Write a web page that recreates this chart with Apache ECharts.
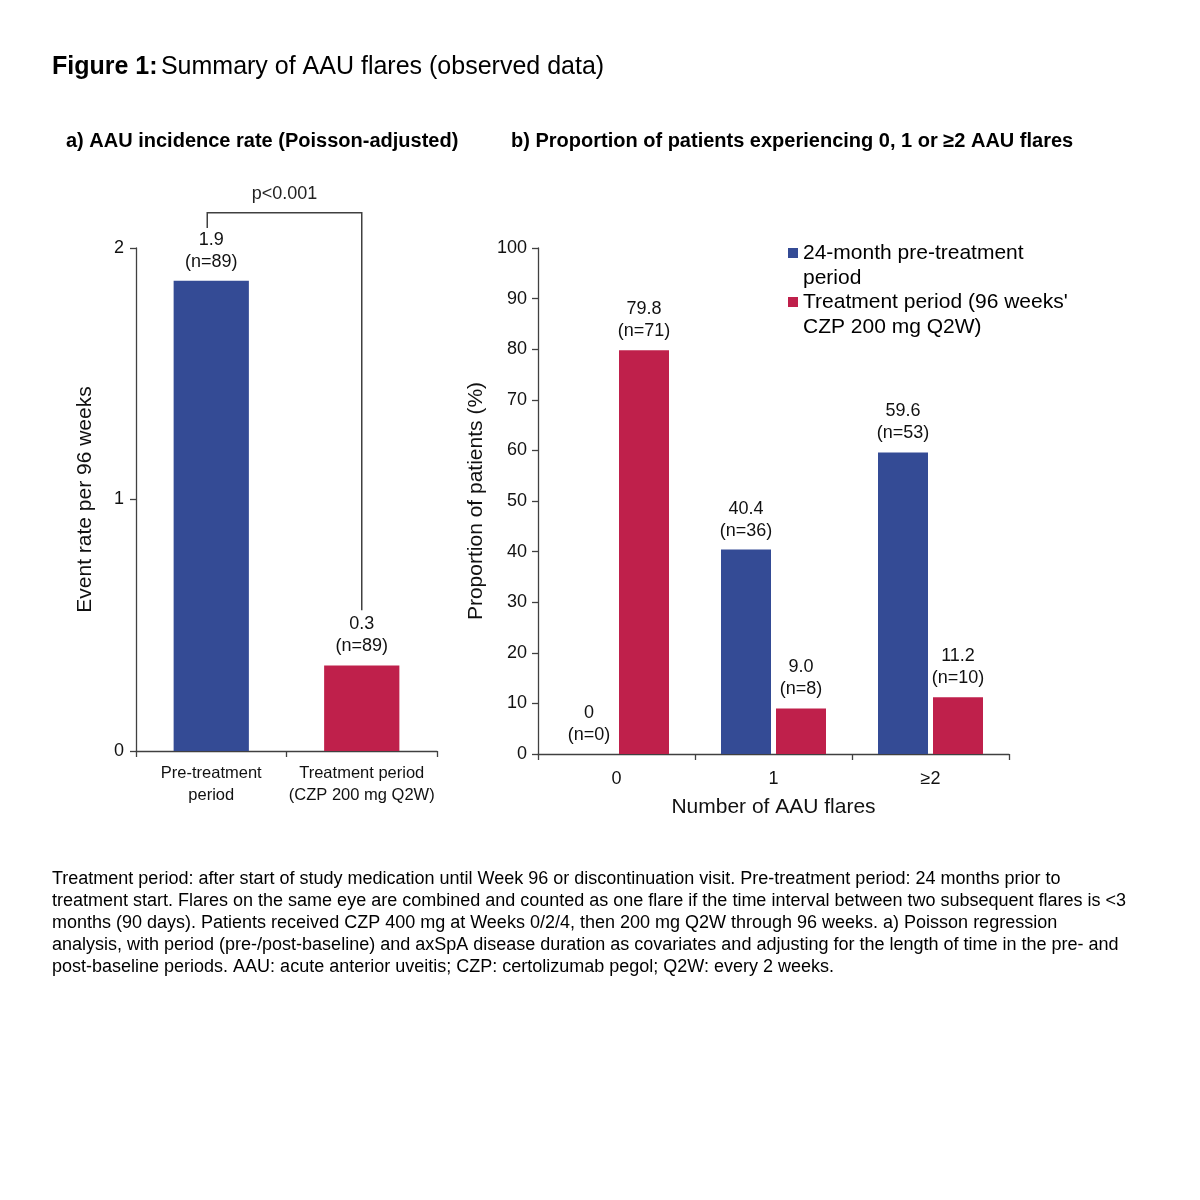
<!DOCTYPE html>
<html>
<head>
<meta charset="utf-8">
<script src="https://cdn.jsdelivr.net/npm/echarts@6/dist/echarts.min.js"></script>
<style>html,body{margin:0;padding:0;background:#fff;}#c{width:1200px;height:1200px;}</style>
</head>
<body>
<div id="c"></div>
<script>
// ---- Data ----
var leftCategories = ['Pre-treatment\nperiod', 'Treatment period\n(CZP 200 mg Q2W)'];
var leftValues = [1.87, 0.34];
var leftValueLabels = ['1.9', '0.3'];
var leftN = [89, 89];
var leftTicks = [0, 1, 2];

var rightCategories = ['0', '1', '≥2'];
var preValues = [0, 40.4, 59.6];
var preN = [0, 36, 53];
var treatValues = [79.8, 9.0, 11.2];
var treatN = [71, 8, 10];
var seriesNames = ['24-month pre-treatment\nperiod', "Treatment period (96 weeks'\nCZP 200 mg Q2W)"];
var pValueText = 'p<0.001';
var footnoteLines = [
  'Treatment period: after start of study medication until Week 96 or discontinuation visit. Pre-treatment period: 24 months prior to',
  'treatment start. Flares on the same eye are combined and counted as one flare if the time interval between two subsequent flares is <3',
  'months (90 days). Patients received CZP 400 mg at Weeks 0/2/4, then 200 mg Q2W through 96 weeks. a) Poisson regression',
  'analysis, with period (pre-/post-baseline) and axSpA disease duration as covariates and adjusting for the length of time in the pre- and',
  'post-baseline periods. AAU: acute anterior uveitis; CZP: certolizumab pegol; Q2W: every 2 weeks.'
];

// ---- Styles ----
var BLUE = '#344b95';
var RED = '#bf204b';
var AX = '#404040';
var FONT = '"Liberation Sans", Arial, sans-serif';

function fmt(v) { return v === 0 ? '0' : v.toFixed(1); }

var chart = echarts.init(document.getElementById('c'), null, {renderer: 'canvas'});

var axisCommon = {
  axisLine: {show: true, lineStyle: {color: AX, width: 1.3}},
  axisTick: {show: true, inside: false, length: 6, lineStyle: {color: AX, width: 1.3}},
  splitLine: {show: false}
};

var labelCommon = {
  show: true, position: 'top', distance: 8,
  fontFamily: FONT, fontSize: 18, lineHeight: 22, color: '#111', align: 'center'
};

var graphics = [
  {type: 'text', left: 52, top: 55, style: {
    text: '{b|Figure 1:} {n|Summary of AAU flares (observed data)}',
    rich: {b: {fontFamily: FONT, fontSize: 25, fontWeight: 'bold', fill: '#000'},
           n: {fontFamily: FONT, fontSize: 25, fill: '#000'}}}},
  {type: 'text', left: 66, top: 131, style: {text: 'a) AAU incidence rate (Poisson-adjusted)',
    fontFamily: FONT, fontSize: 20, fontWeight: 'bold', fill: '#000'}},
  {type: 'text', left: 511, top: 131, style: {text: 'b) Proportion of patients experiencing 0, 1 or ≥2 AAU flares',
    fontFamily: FONT, fontSize: 20, fontWeight: 'bold', fill: '#000'}}
];
footnoteLines.forEach(function (t, i) {
  graphics.push({type: 'text', left: 52, top: 870 + i * 22, style: {text: t, fontFamily: FONT, fontSize: 18, fill: '#000'}});
});
// legend
var legendColors = [BLUE, RED];
seriesNames.forEach(function (n, i) {
  var y = 241 + i * 49;
  graphics.push({type: 'rect', shape: {x: 788, y: y + 7, width: 10, height: 10}, style: {fill: legendColors[i]}});
  graphics.push({type: 'text', left: 803, top: y, style: {text: n, fontFamily: FONT, fontSize: 21, lineHeight: 24.5, fill: '#000'}});
});

var option = {
  animation: false,
  backgroundColor: '#fff',
  textStyle: {fontFamily: FONT},
  grid: [
    {left: 136, top: 248, width: 301, height: 503, containLabel: false},
    {left: 538, top: 248, width: 471, height: 506, containLabel: false}
  ],
  xAxis: [
    Object.assign({}, axisCommon, {type: 'category', gridIndex: 0, data: leftCategories,
      axisLabel: {interval: 0, fontFamily: FONT, fontSize: 16.5, lineHeight: 22, color: '#111', margin: 11}}),
    Object.assign({}, axisCommon, {type: 'category', gridIndex: 1, data: rightCategories,
      name: 'Number of AAU flares', nameLocation: 'middle', nameGap: 43,
      nameTextStyle: {fontFamily: FONT, fontSize: 21, color: '#111'},
      axisLabel: {interval: 0, fontFamily: FONT, fontSize: 18, color: '#111', margin: 16}})
  ],
  yAxis: [
    Object.assign({}, axisCommon, {type: 'value', gridIndex: 0, min: 0, max: 2, interval: 1,
      name: 'Event rate per 96 weeks', nameLocation: 'middle', nameGap: 40,
      nameTextStyle: {fontFamily: FONT, fontSize: 21, color: '#111'},
      axisLabel: {fontFamily: FONT, fontSize: 18, color: '#111', margin: 12}}),
    Object.assign({}, axisCommon, {type: 'value', gridIndex: 1, min: 0, max: 100, interval: 10,
      name: 'Proportion of patients (%)', nameLocation: 'middle', nameGap: 51,
      nameTextStyle: {fontFamily: FONT, fontSize: 21, color: '#111'},
      axisLabel: {fontFamily: FONT, fontSize: 18, color: '#111', margin: 11}})
  ],
  series: [
    {type: 'bar', xAxisIndex: 0, yAxisIndex: 0, barWidth: '50%',
      data: leftValues.map(function (v, i) { return {value: v, itemStyle: {color: i === 0 ? BLUE : RED}}; }),
      label: Object.assign({}, labelCommon, {formatter: function (p) {
        return leftValueLabels[p.dataIndex] + '\n(n=' + leftN[p.dataIndex] + ')'; }})},
    {type: 'bar', name: seriesNames[0], xAxisIndex: 1, yAxisIndex: 1, barWidth: 50, barGap: '10%',
      itemStyle: {color: BLUE}, data: preValues,
      label: Object.assign({}, labelCommon, {formatter: function (p) {
        return fmt(preValues[p.dataIndex]) + '\n(n=' + preN[p.dataIndex] + ')'; }})},
    {type: 'bar', name: seriesNames[1], xAxisIndex: 1, yAxisIndex: 1, barWidth: 50, barGap: '10%',
      itemStyle: {color: RED}, data: treatValues,
      label: Object.assign({}, labelCommon, {formatter: function (p) {
        return fmt(treatValues[p.dataIndex]) + '\n(n=' + treatN[p.dataIndex] + ')'; }})}
  ],
  graphic: graphics
};
chart.setOption(option);

// significance bracket, positioned through the left chart's scales
var bracketTop = 2.14, leftFoot = 2.08, rightFoot = 0.56;
var pA = chart.convertToPixel({xAxisIndex: 0, yAxisIndex: 0}, [0, bracketTop]);
var pB = chart.convertToPixel({xAxisIndex: 0, yAxisIndex: 0}, [1, bracketTop]);
var pA2 = chart.convertToPixel({xAxisIndex: 0, yAxisIndex: 0}, [0, leftFoot]);
var pB2 = chart.convertToPixel({xAxisIndex: 0, yAxisIndex: 0}, [1, rightFoot]);
graphics.push({type: 'polyline', shape: {points: [[pA2[0] - 4, pA2[1]], [pA[0] - 4, pA[1]], [pB[0], pB[1]], [pB2[0], pB2[1]]]},
  style: {stroke: AX, lineWidth: 1.5, fill: null}});
graphics.push({type: 'text', x: (pA[0] + pB[0]) / 2 - 2, y: pA[1] - 19,
  style: {text: pValueText, fontFamily: FONT, fontSize: 18, fill: '#222', align: 'center', verticalAlign: 'middle'}});
chart.setOption({graphic: graphics});
</script>
</body>
</html>
